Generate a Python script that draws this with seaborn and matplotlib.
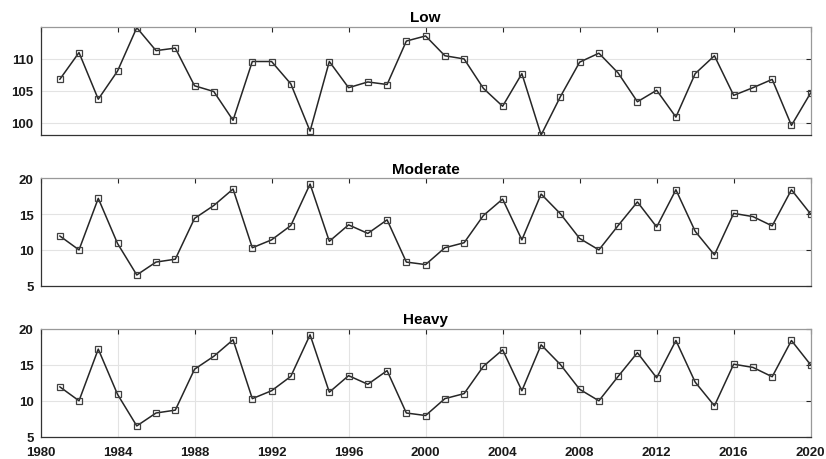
import matplotlib
matplotlib.use("Agg")
import matplotlib.pyplot as plt
import seaborn as sns
import pandas as pd

years = list(range(1981, 2021))
low = [106.8, 111.0, 103.7, 108.1, 114.9, 111.3, 111.7, 105.8, 104.9, 100.4,
       109.6, 109.6, 106.1, 98.7, 109.6, 105.5, 106.4, 106.0, 112.8, 113.6,
       110.5, 110.0, 105.4, 102.6, 107.7, 98.1, 104.1, 109.5, 110.9, 107.8,
       103.3, 105.1, 100.9, 107.7, 110.5, 104.3, 105.5, 106.8, 99.6, 104.7]
moderate = [11.95, 10.0, 17.2, 10.9, 6.5, 8.3, 8.7, 14.4, 16.2, 18.5,
            10.3, 11.4, 13.4, 19.2, 11.2, 13.5, 12.3, 14.2, 8.3, 7.95,
            10.3, 11.0, 14.8, 17.1, 11.4, 17.8, 15.05, 11.6, 10.0, 13.4,
            16.7, 13.2, 18.4, 12.6, 9.3, 15.1, 14.65, 13.35, 18.4, 15.0]
heavy = [11.95, 10.0, 17.2, 10.9, 6.5, 8.3, 8.7, 14.4, 16.2, 18.5,
         10.3, 11.4, 13.4, 19.2, 11.2, 13.5, 12.3, 14.2, 8.3, 7.95,
         10.3, 11.0, 14.8, 17.1, 11.4, 17.8, 15.05, 11.6, 10.0, 13.4,
         16.7, 13.2, 18.4, 12.6, 9.3, 15.1, 14.65, 13.35, 18.4, 15.0]
titles = ["Low", "Moderate", "Heavy"]
low_ticks = [100, 105, 110]
mh_ticks = [5, 10, 15, 20]
x_ticks = list(range(1980, 2021, 4))

sns.set_style("white")
plt.rcParams['font.family'] = ['Liberation Sans', 'DejaVu Sans']
plt.rcParams['font.weight'] = 'bold'

fig = plt.figure(figsize=(8.26, 4.6), dpi=100)
L, R = 40.5 / 826, 810.7 / 826
boxes = [(28, 136.3), (179.3, 286.7), (330, 437.7)]
series = [low, moderate, heavy]
ylims = [(98.05, 115.0), (5, 20), (5, 20)]
yticks = [low_ticks, mh_ticks, mh_ticks]

for i in range(3):
    top, bot = boxes[i]
    ax = fig.add_axes([L, 1 - bot / 460, R - L, (bot - top) / 460])
    df = pd.DataFrame({"year": years, "value": series[i]})
    sns.lineplot(data=df, x="year", y="value", ax=ax, color="#262626",
                 linewidth=1.1, marker="s", markersize=5.0,
                 markerfacecolor="none", markeredgecolor="#404040",
                 markeredgewidth=0.9)
    ax.set_xlim(1980, 2020)
    ax.set_ylim(*ylims[i])
    ax.set_yticks(yticks[i])
    ax.set_xticks(x_ticks)
    ax.set_xlabel("")
    ax.set_ylabel("")
    ax.set_title(titles[i], fontsize=11, fontweight="bold", pad=4, color="black")
    ax.grid(axis="y", color="#e3e3e3", linewidth=0.8)
    if i == 2:
        ax.grid(axis="x", color="#e3e3e3", linewidth=0.8)
        ax.tick_params(axis="x", labelbottom=True)
    else:
        ax.tick_params(axis="x", labelbottom=False)
    ax.tick_params(direction="in", length=3.5, width=0.8, colors="#262626",
                   top=True, right=True, labelsize=9.5)
    ax.tick_params(axis="x", pad=6.5)
    ax.tick_params(axis="y", pad=5.0)
    for lab in ax.get_xticklabels() + ax.get_yticklabels():
        lab.set_fontweight("bold")
        lab.set_color("#1a1a1a")
    for s in ["left", "bottom"]:
        ax.spines[s].set_color("#333333")
        ax.spines[s].set_linewidth(0.9)
    for s in ["top", "right"]:
        ax.spines[s].set_color("#999999")
        ax.spines[s].set_linewidth(0.9)
    ax.set_axisbelow(True)

fig.savefig("out.png", dpi=100)
